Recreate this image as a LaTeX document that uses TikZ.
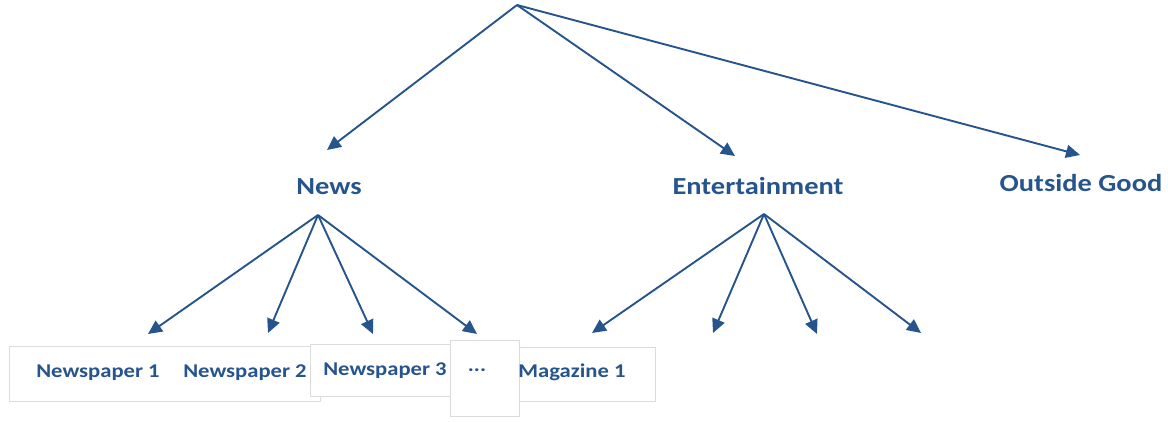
\documentclass[tikz,border=0pt]{standalone}
\usepackage{fontspec}
\setmainfont{Carlito}
\usepackage{graphicx}
\usepackage{xcolor}
\usetikzlibrary{arrows.meta, positioning}
\definecolor{treeblue}{RGB}{38, 84, 140}
\definecolor{framegray}{RGB}{220, 220, 220}
\newcommand{\wide}[1]{\scalebox{1.16}[1]{#1}}

\begin{document}
\begin{tikzpicture}[
    x=1pt, y=-1pt,
    arrow/.style={-{Triangle[length=14pt, width=13pt]}, line width=1.9pt, color=treeblue},
    nest/.style={font=\fontsize{24.5}{28}\selectfont\bfseries, text=treeblue, inner sep=0pt},
    item/.style={font=\fontsize{19.5}{23}\selectfont\bfseries, text=treeblue, inner sep=0pt},
    frame/.style={draw=framegray, fill=white, line width=0.8pt}
]
\useasboundingbox (0,0) rectangle (1168,421);

% Frames behind the products
\draw[frame] (9,346) rectangle (320,401);
\draw[frame] (310,344) rectangle (455,396);
\draw[frame] (450,340) rectangle (519,416);
\draw[frame] (519,347) rectangle (655,401);

% Nests
\node[nest] (news) at (329,187) {\wide{News}};
\node[nest] (ent) at (758,186) {\wide{Entertainment}};
\node[nest] (outside) at (1081,183) {\wide{Outside Good}};

% Products
\node[item] (np1) at (98,373) {\wide{Newspaper 1}};
\node[item] (np2) at (245,373) {\wide{Newspaper 2}};
\node[item] (np3) at (385,371) {\wide{Newspaper 3}};
\node[item] (dots) at (477,370) {\wide{...}};
\node[item] (mag1) at (572,372) {\wide{Magazine 1}};

% Branch points and arrow ends
\coordinate (root) at (517,5);
\coordinate (newsin) at (327,150);
\coordinate (entin) at (735,156);
\coordinate (outin) at (1080,155);
\coordinate (newsout) at (318,215);
\coordinate (entout) at (764,214);
\coordinate (n1) at (148,334);
\coordinate (n2) at (268,333);
\coordinate (n3) at (373,334);
\coordinate (n4) at (477,334);
\coordinate (e1) at (592,333);
\coordinate (e2) at (713,333);
\coordinate (e3) at (817,334);
\coordinate (e4) at (921,333);

% Top level
\draw[arrow] (root) -- (newsin);
\draw[arrow] (root) -- (entin);
\draw[arrow] (root) -- (outin);

% News branch
\draw[arrow] (newsout) -- (n1);
\draw[arrow] (newsout) -- (n2);
\draw[arrow] (newsout) -- (n3);
\draw[arrow] (newsout) -- (n4);

% Entertainment branch
\draw[arrow] (entout) -- (e1);
\draw[arrow] (entout) -- (e2);
\draw[arrow] (entout) -- (e3);
\draw[arrow] (entout) -- (e4);

\end{tikzpicture}
\end{document}
